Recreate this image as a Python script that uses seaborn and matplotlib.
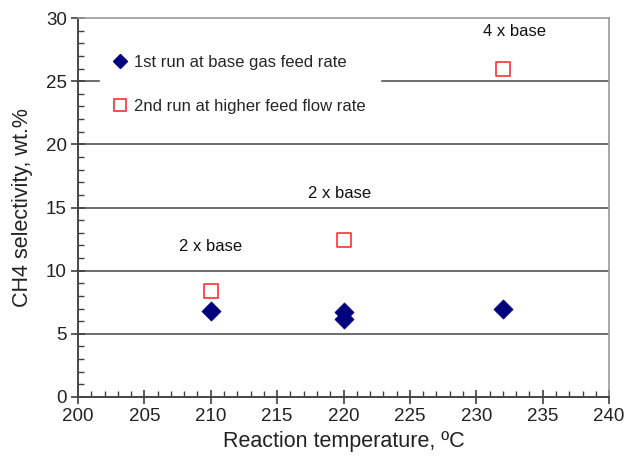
import numpy as np
import pandas as pd
import matplotlib
matplotlib.use("Agg")
import matplotlib.pyplot as plt
import seaborn as sns
from matplotlib.lines import Line2D

# Data
run1_temp = [210, 220, 220, 232]
run1_sel = [6.8, 6.7, 6.2, 7.0]
run2_temp = [210, 220, 232]
run2_sel = [8.4, 12.4, 26.0]
series_names = ["1st run at base gas feed rate", "2nd run at higher feed flow rate"]
annot_text = ["2 x base", "2 x base", "4 x base"]
annot_x = [210, 219.7, 232.9]
annot_y = [11.9, 16.1, 28.9]
x_ticks = [200, 205, 210, 215, 220, 225, 230, 235, 240]
y_ticks = [0, 5, 10, 15, 20, 25, 30]

df = pd.DataFrame({
    "temp": run1_temp + run2_temp,
    "sel": run1_sel + run2_sel,
    "series": [series_names[0]] * len(run1_temp) + [series_names[1]] * len(run2_temp),
})

sns.set_style("white")
plt.rcParams['font.family'] = ['Liberation Sans', 'DejaVu Sans']

fig = plt.figure(figsize=(6.27, 4.57), dpi=100)
ax = fig.add_axes([0.1244, 0.1313, 0.8470, 0.8293])

for yv in [5, 10, 15, 20, 25]:
    ax.axhline(yv, color='#454545', lw=1.1, zorder=0)

d1 = df[df.series == series_names[0]]
d2 = df[df.series == series_names[1]]
sns.scatterplot(data=d1, x="temp", y="sel", ax=ax, marker='D', color='#00007f',
                s=95, edgecolor='#00007f', linewidth=0.5, zorder=3, legend=False)
sns.scatterplot(data=d2, x="temp", y="sel", ax=ax, marker='s', facecolor='white',
                edgecolor='#ff3030', s=90, linewidth=1.2, zorder=3, legend=False)

ax.set_xlim(200, 240)
ax.set_ylim(0, 30)
ax.set_xticks(x_ticks)
ax.set_yticks(y_ticks)
ax.set_xticks(np.arange(200, 241, 1), minor=True)
ax.set_yticks(np.arange(0, 31, 1), minor=True)
ax.tick_params(axis='both', which='major', direction='inout', length=10, width=1.2,
               color='#404040', labelsize=13.5, labelcolor='#222222', pad=3,
               bottom=True, left=True, top=False, right=False)
ax.tick_params(axis='both', which='minor', direction='in', length=4, width=1,
               color='#404040', bottom=True, left=True, top=False, right=False)

for s in ['left', 'bottom']:
    ax.spines[s].set_color('#454545')
    ax.spines[s].set_linewidth(1.4)
for s in ['top', 'right']:
    ax.spines[s].set_color('#999999')
    ax.spines[s].set_linewidth(1.2)

ax.set_xlabel("Reaction temperature, ºC", fontsize=15.5, color='#222222', labelpad=4)
ax.set_ylabel("CH4 selectivity, wt.%", fontsize=15.5, color='#222222', labelpad=9)

for t, xv, yv in zip(annot_text, annot_x, annot_y):
    ax.text(xv, yv, t, fontsize=12, ha='center', va='center', color='#111111')

# Legend
handles = [
    Line2D([], [], marker='D', ls='none', color='#00007f', markersize=7),
    Line2D([], [], marker='s', ls='none', markerfacecolor='white', markeredgecolor='#ff3030',
           markeredgewidth=1.2, markersize=8),
]
leg = ax.legend(handles, series_names, loc='upper left', bbox_to_anchor=(0.025, 0.965),
                frameon=True, fontsize=12, handlelength=0.7, handletextpad=0.45,
                labelspacing=1.75, borderpad=0.9, fancybox=False)
leg.get_frame().set_edgecolor('white')
leg.get_frame().set_facecolor('white')
leg.get_frame().set_alpha(1)
leg.set_zorder(2)

fig.savefig("out.png", dpi=100, facecolor='white')
